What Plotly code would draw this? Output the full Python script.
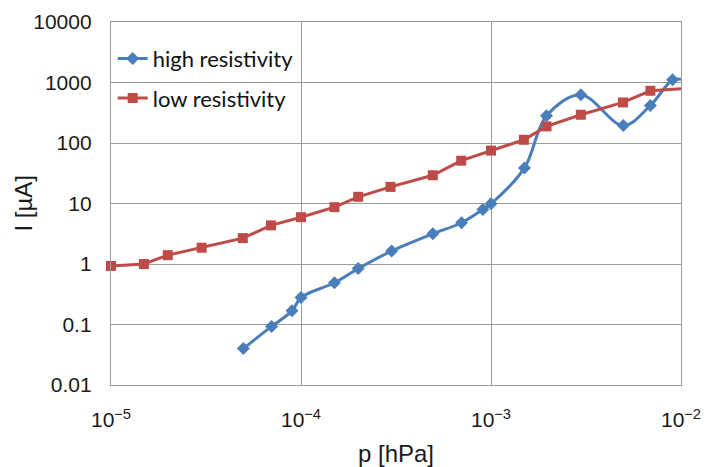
import plotly.graph_objects as go

# ---- data ----
p_low = [1.0e-5, 1.49e-5, 1.99e-5, 3.0e-5, 4.94e-5, 6.95e-5, 1.0e-4, 1.5e-4, 2.0e-4, 2.96e-4,
         4.94e-4, 6.97e-4, 1.0e-3, 1.49e-3, 1.96e-3, 2.97e-3, 4.95e-3, 6.9e-3, 1.0e-2]
i_low = [0.93, 1.0, 1.4, 1.86, 2.68, 4.35, 5.94, 8.7, 12.9, 18.8,
         29.3, 51, 74.8, 113, 188, 293, 468, 730, 787]

p_high = [4.97e-5, 7.0e-5, 8.97e-5, 1.0e-4, 1.5e-4, 2.0e-4, 3.0e-4, 4.94e-4, 7.0e-4, 9.06e-4,
          1.0e-3, 1.5e-3, 1.96e-3, 2.97e-3, 4.97e-3, 6.9e-3, 9.03e-3, 1.0e-2]
i_high = [0.040, 0.093, 0.168, 0.279, 0.49, 0.84, 1.64, 3.16, 4.8, 7.96,
          9.9, 38.7, 282, 627, 195, 417, 1107, 1130]

y_tickvals = [0.01, 0.1, 1, 10, 100, 1000, 10000]
y_ticktext = ["0.01", "0.1", "1", "10", "100", "1000", "10000"]
x_tickvals = [1e-5, 1e-4, 1e-3, 1e-2]
x_ticktext = ["10<sup>\u22125</sup>", "10<sup>\u22124</sup>", "10<sup>\u22123</sup>", "10<sup>\u22122</sup>"]

BLUE = "#4a7ebb"
RED = "#be4b48"
TXT = dict(family="Liberation Sans, Arial, sans-serif", color="#1a1a1a")

fig = go.Figure()
fig.add_trace(go.Scatter(
    x=p_high, y=i_high, name="high resistivity", mode="lines+markers",
    line=dict(color=BLUE, width=3, shape="spline", smoothing=1.0),
    marker=dict(symbol="diamond", size=10, color=BLUE),
    cliponaxis=False, legendgroup="a"))
fig.add_trace(go.Scatter(
    x=p_low, y=i_low, name="low resistivity", mode="lines+markers",
    line=dict(color=RED, width=3),
    marker=dict(symbol="square", size=10, color=RED),
    cliponaxis=False, legendgroup="b"))

axis_common = dict(
    showgrid=True, gridcolor="#9c9c9c", gridwidth=1.3,
    showline=True, linecolor="#9c9c9c", linewidth=1.3, mirror=True,
    zeroline=False, ticks="", automargin=False,
    tickfont=dict(size=21, **TXT),
)

fig.update_xaxes(type="log", range=[-5, -2], tickvals=x_tickvals, ticktext=x_ticktext,
                 ticklabelstandoff=16,
                 title=dict(text="p [hPa]", standoff=18, font=dict(size=24, **TXT)),
                 **axis_common)
fig.update_yaxes(type="log", range=[-2, 4], tickvals=y_tickvals, ticktext=y_ticktext,
                 ticklabelstandoff=14,
                 **axis_common)

fig.add_annotation(text="I [\u00b5A]", xref="paper", yref="paper", x=0, y=0.5,
                   xanchor="center", yanchor="middle", xshift=-88, textangle=-90,
                   showarrow=False, font=dict(size=24, **TXT))

fig.update_layout(
    width=716, height=467,
    margin=dict(l=111, r=35, t=22, b=82),
    paper_bgcolor="white", plot_bgcolor="white",
    showlegend=True,
    legend=dict(x=0.003, y=0.957, xanchor="left", yanchor="top",
                bgcolor="rgba(0,0,0,0)", borderwidth=0,
                traceorder="grouped", tracegroupgap=8,
                font=dict(family="Lato, Noto Sans, sans-serif", size=22, color="#111111")),
)

fig.write_html("out.html")
